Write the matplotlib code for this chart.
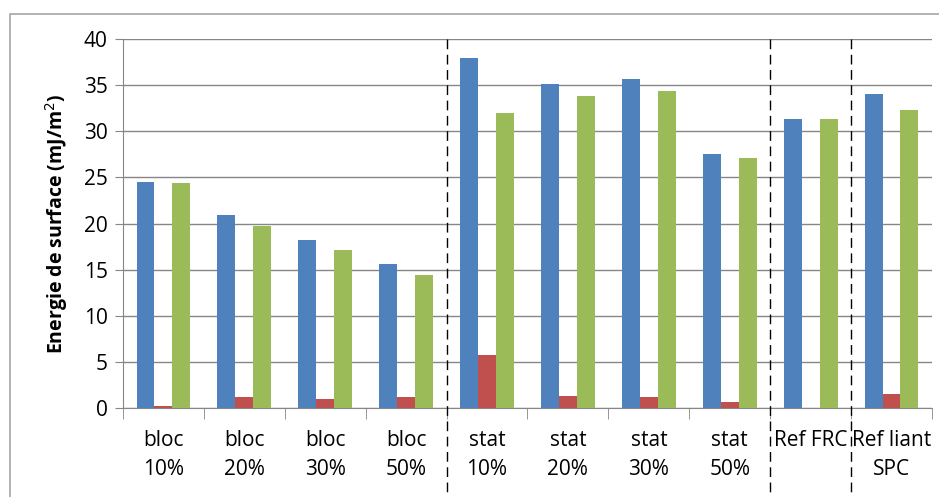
import matplotlib.pyplot as plt
import matplotlib.transforms as mtransforms
from matplotlib.patches import Rectangle
import numpy as np

categories = ["bloc\n10%", "bloc\n20%", "bloc\n30%", "bloc\n50%",
              "stat\n10%", "stat\n20%", "stat\n30%", "stat\n50%",
              "Ref FRC", "Ref liant\nSPC"]
blue_vals = [24.5, 20.9, 18.2, 15.6, 37.9, 35.1, 35.7, 27.5, 31.3, 34.0]
red_vals = [0.2, 1.2, 1.0, 1.2, 5.8, 1.3, 1.2, 0.7, 0.0, 1.5]
green_vals = [24.4, 19.7, 17.1, 14.4, 32.0, 33.8, 34.4, 27.1, 31.3, 32.3]
separators = [3.5, 7.5, 8.5]

plt.rcParams["font.family"] = ["Open Sans", "DejaVu Sans"]

fig = plt.figure(figsize=(9.39, 4.97), dpi=100)
ax = fig.add_axes([0.131, 0.179, 0.8615, 0.7425])

# chart area border
fig.patches.append(Rectangle((10 / 939, -0.1), 1.0, 1 - 14 / 497 + 0.1,
                             transform=fig.transFigure, fill=False,
                             edgecolor="#a6a6a6", linewidth=1.2))

x = np.arange(len(categories))
w = 0.222
ax.bar(x - w, blue_vals, w, color="#4f81bd", zorder=3)
ax.bar(x, red_vals, w, color="#c0504d", zorder=3)
ax.bar(x + w, green_vals, w, color="#9bbb59", zorder=3)

ax.set_xlim(-0.5, len(categories) - 0.5)
ax.set_ylim(0, 40)
ax.set_yticks(range(0, 41, 5))
ax.yaxis.grid(True, color="#868686", linewidth=1.0, zorder=0)
ax.tick_params(axis="y", labelsize=15, length=6, color="#868686", pad=5)

ax.set_xticks(x)
ax.set_xticklabels(categories, fontsize=15, linespacing=1.5)
ax.set_xticks(np.arange(-0.5, len(categories), 1.0), minor=True)
ax.tick_params(axis="x", which="major", length=0, pad=16)
ax.tick_params(axis="x", which="minor", length=8, color="#868686")

for s in ["top", "right"]:
    ax.spines[s].set_visible(False)
for s in ["left", "bottom"]:
    ax.spines[s].set_color("#868686")

ax.set_ylabel("Energie de surface (mJ/m$^2$)", fontsize=14, fontweight="bold",
              labelpad=10)

trans = mtransforms.blended_transform_factory(ax.transData, ax.transAxes)
for sx in separators:
    ax.plot([sx, sx], [1.0, -0.25], color="black", linewidth=1.0,
            linestyle=(0, (7, 4)), transform=trans, clip_on=False, zorder=4)

fig.savefig("out.png", dpi=100, facecolor="w")
